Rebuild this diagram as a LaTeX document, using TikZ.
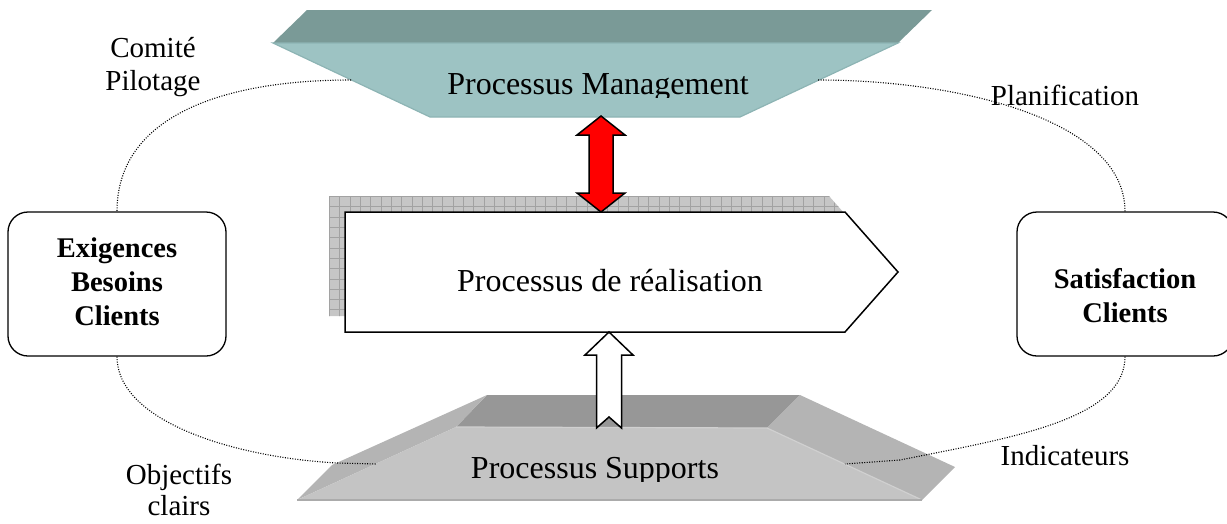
\documentclass[tikz,border=0pt]{standalone}
\usepackage{fontspec}
\setmainfont{Liberation Serif}
\usetikzlibrary{calc}
\definecolor{mgtop}{HTML}{7A9A97}
\definecolor{mgfront}{HTML}{9DC3C3}
\definecolor{mgedge}{HTML}{8DB4B4}
\definecolor{supback}{HTML}{979797}
\definecolor{supside}{HTML}{B4B4B4}
\definecolor{supfront}{HTML}{C4C4C4}
\definecolor{supedge}{HTML}{D0D0D0}
\definecolor{supbottom}{HTML}{ABABAB}
\definecolor{shadowfill}{HTML}{C6C6C6}
\definecolor{gridc}{HTML}{A2A2A2}
\definecolor{arrowred}{HTML}{FF0000}
\begin{document}
\begin{tikzpicture}[x=1pt,y=-1pt,
  lbl/.style={font=\fontsize{29}{33}\selectfont, align=center, inner sep=0pt},
  ptxt/.style={font=\fontsize{32}{38}\selectfont, inner sep=0pt},
  btxt/.style={font=\fontsize{28.5}{34}\selectfont\bfseries, align=center, inner sep=0pt},
  roundbox/.style={draw=black, line width=1.3pt, rounded corners=20pt, fill=white, inner sep=0pt},
  dots/.style={line width=1.1pt, dash pattern=on 1pt off 1.5pt},
  blockarrow/.style={draw=black, line width=1.5pt, line join=miter}]
\useasboundingbox (0,0) rectangle (1227,523);

% ---------- Processus Management (top) ----------
\fill[mgtop] (307,10) -- (932,10) -- (898,43) -- (273,43) -- cycle;
\filldraw[fill=mgfront, draw=mgedge, line width=1.2pt] (273,43) -- (898,43) -- (740,117) -- (430,117) -- cycle;
\begin{scope}
  \clip (0,0) rectangle (1227,97.5);
  \node[ptxt, anchor=base] (mgmt) at (598,94) {Processus Management};
\end{scope}
\coordinate (mgB) at (601,116);
\coordinate (mgL) at (351,80);
\coordinate (mgR) at (818,80);

% ---------- Processus de realisation ----------
\begin{scope}
  \clip (329,196) -- (829,196) -- (882,256) -- (829,316) -- (329,316) -- cycle;
  \fill[shadowfill] (320,190) rectangle (900,320);
  \foreach \gx in {0,...,55} \draw[gridc, line width=0.8pt] (329.5+10.3*\gx,190) -- (329.5+10.3*\gx,320);
  \foreach \gy in {0,...,12} \draw[gridc, line width=0.8pt] (320,196.5+10.3*\gy) -- (900,196.5+10.3*\gy);
\end{scope}
\filldraw[fill=white, draw=black, line width=1.5pt] (345,212) -- (845,212) -- (898,272) -- (845,332) -- (345,332) -- cycle;
\node[ptxt, anchor=base] (real) at (610,291) {Processus de réalisation};
\coordinate (realT) at (601,212);
\coordinate (realB) at (609,332);

% ---------- Processus Supports (bottom) ----------
\fill[supback] (487,395) -- (800,395) -- (767,428) -- (456,427) -- cycle;
\fill[supside] (487,395) -- (456,427) -- (297,500) -- (332,465) -- cycle;
\fill[supside] (800,395) -- (955,467) -- (922,500) -- (767,428) -- cycle;
\fill[supfront] (456,427) -- (767,428) -- (922,500) -- (297,500) -- cycle;
\draw[supedge, line width=1.2pt] (456,427) -- (767,428) -- (922,500);
\draw[supbottom, line width=1.5pt] (297,500) -- (922,500);
\begin{scope}
  \clip (0,0) rectangle (1227,481);
  \node[ptxt, anchor=base] (supp) at (595,478) {Processus Supports};
\end{scope}

% ---------- arrows ----------
\draw[blockarrow, fill=arrowred] (mgB) -- ++(24,19) -- ++(-12,0) -- ++(0,58) -- ++(12,0)
  -- (realT) -- ++(-24,-19) -- ++(12,0) -- ++(0,-58) -- ++(-12,0) -- cycle;
\draw[blockarrow, fill=white] (realB) -- ++(24,23) -- ++(-11.5,0) -- ++(0,73) -- ++(-12.5,-11)
  -- ++(-12.5,11) -- ++(0,-73) -- ++(-11.5,0) -- cycle;

% ---------- client boxes ----------
\node[roundbox, minimum width=218pt, minimum height=144pt] (exig) at (117,284) {};
\node[btxt, anchor=north] (exigT) at (117,237.5) {Exigences\\Besoins\\Clients};
\node[roundbox, minimum width=216pt, minimum height=144pt] (satis) at (1125,284) {};
\node[btxt, anchor=north] (satisT) at (1125,268.5) {Satisfaction\\Clients};

% ---------- dotted loop ----------
\coordinate (supL) at (377,464);
\coordinate (supR) at (845,464);
\draw[dots] (mgL) .. controls (215,80) and (117,120) .. (exig.north);
\draw[dots] (mgR) .. controls (960,80) and (1125,120) .. (satis.north);
\draw[dots] (exig.south) .. controls (117,420) and (230,457) .. (337,463) -- (supL);
\draw[dots] (satis.south) .. controls (1125,420) and (1010,438) .. (900,460) -- (supR);

% ---------- labels ----------
\node[lbl, anchor=north] (comite) at (153,37.5) {Comité\\Pilotage};
\node[lbl, anchor=base] (planif) at (1065,105) {Planification};
\node[lbl, anchor=base] (indic) at (1065,465) {Indicateurs};
\node[lbl, anchor=north, font=\fontsize{29}{31}\selectfont] (obj) at (179,464) {Objectifs\\clairs};
\end{tikzpicture}
\end{document}
